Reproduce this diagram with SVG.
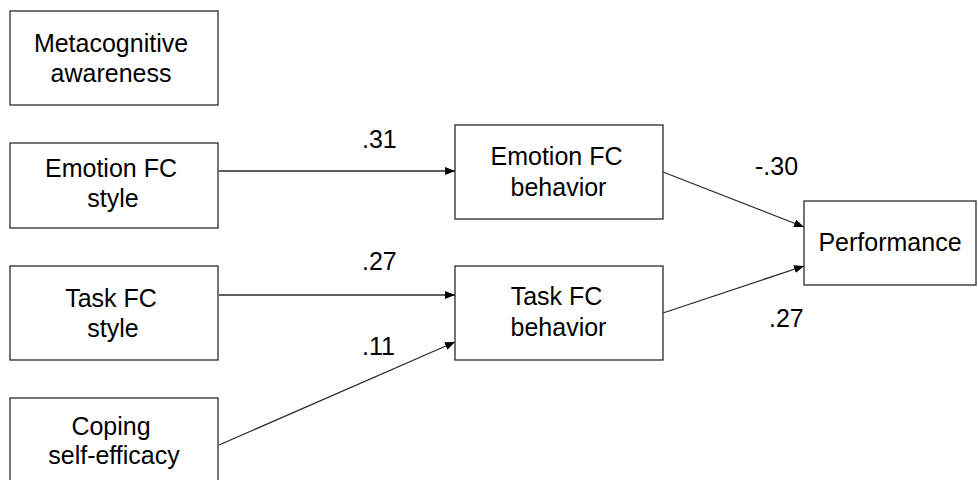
<svg xmlns="http://www.w3.org/2000/svg" width="978" height="480" viewBox="0 0 978 480">
  <style>
    .box { fill: #ffffff; stroke: #2a2a2a; stroke-width: 1.3; }
    .lbl { font-family: "Liberation Sans", Arial, sans-serif; font-size: 25px; fill: #000; text-anchor: middle; }
    .coef { font-family: "Liberation Sans", Arial, sans-serif; font-size: 25px; fill: #000; }
    .edge { stroke: #2a2a2a; stroke-width: 1.3; fill: none; marker-end: url(#arrow); }
  </style>
  <defs>
    <marker id="arrow" viewBox="0 0 10 8" refX="10" refY="4" markerWidth="10" markerHeight="8" markerUnits="userSpaceOnUse" orient="auto">
      <path d="M0,0 L10,4 L0,8 Z" fill="#000"/>
    </marker>
  </defs>
  <rect width="978" height="480" fill="#ffffff"/>

  <g id="connectors">
    <line class="edge" x1="219" y1="171" x2="455" y2="171"/>
    <line class="edge" x1="219" y1="295" x2="455" y2="295"/>
    <line class="edge" x1="219" y1="445" x2="455" y2="342"/>
    <line class="edge" x1="663" y1="172" x2="804" y2="227"/>
    <line class="edge" x1="663" y1="313" x2="804" y2="266"/>
    <text class="coef" x="362" y="148">.31</text>
    <text class="coef" x="362" y="270">.27</text>
    <text class="coef" x="362" y="355">.11</text>
    <text class="coef" x="755" y="175">-.30</text>
    <text class="coef" x="769" y="327">.27</text>
  </g>

  <g id="metacognitive-awareness">
    <rect class="box" x="10" y="11" width="208" height="94"/>
    <text class="lbl" x="111" y="52">Metacognitive</text>
    <text class="lbl" x="111" y="82">awareness</text>
  </g>

  <g id="emotion-fc-style">
    <rect class="box" x="10" y="143" width="208" height="85"/>
    <text class="lbl" x="111" y="177">Emotion FC</text>
    <text class="lbl" x="113" y="207">style</text>
  </g>

  <g id="task-fc-style">
    <rect class="box" x="10" y="266" width="208" height="94"/>
    <text class="lbl" x="111" y="307">Task FC</text>
    <text class="lbl" x="113" y="337">style</text>
  </g>

  <g id="coping-self-efficacy">
    <rect class="box" x="10" y="398" width="208" height="94"/>
    <text class="lbl" x="111" y="435">Coping</text>
    <text class="lbl" x="114" y="464">self-efficacy</text>
  </g>

  <g id="emotion-fc-behavior">
    <rect class="box" x="455" y="125" width="208" height="94"/>
    <text class="lbl" x="556.5" y="165">Emotion FC</text>
    <text class="lbl" x="558.5" y="196">behavior</text>
  </g>

  <g id="task-fc-behavior">
    <rect class="box" x="455" y="266" width="208" height="94"/>
    <text class="lbl" x="556.5" y="305">Task FC</text>
    <text class="lbl" x="558.5" y="336">behavior</text>
  </g>

  <g id="performance">
    <rect class="box" x="804" y="201" width="172" height="84"/>
    <text class="lbl" x="890" y="251">Performance</text>
  </g>
</svg>
